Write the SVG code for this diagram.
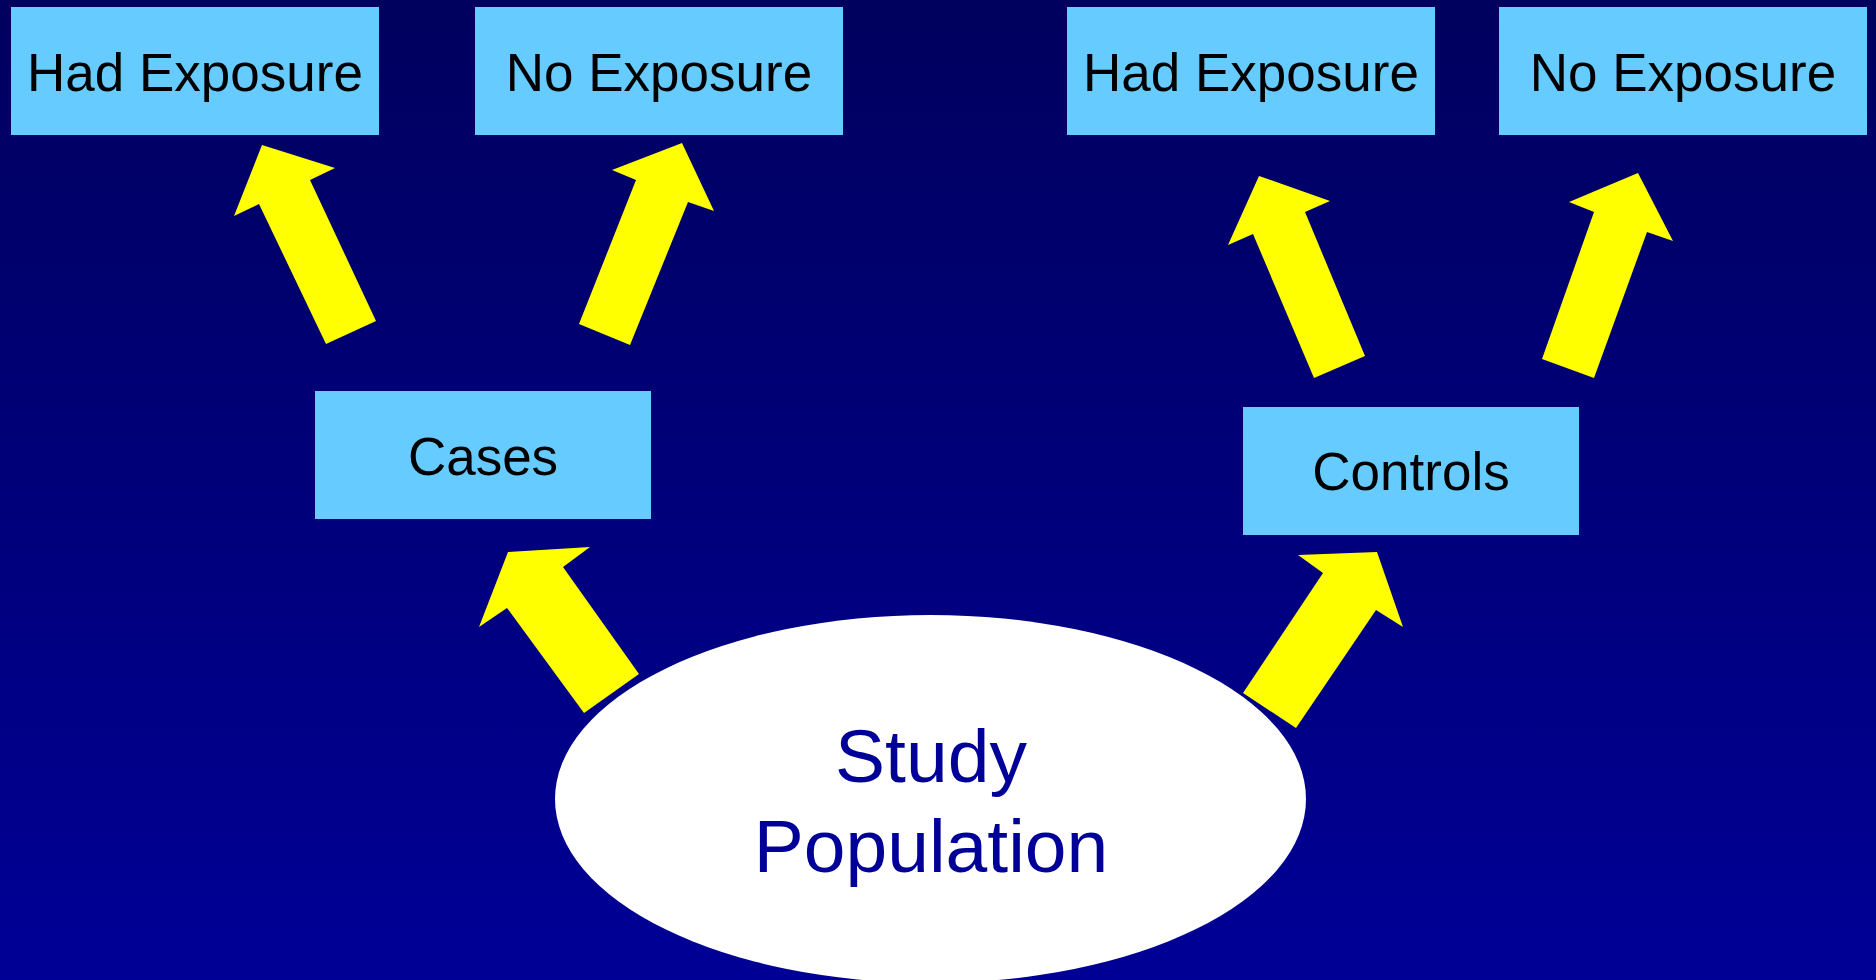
<svg xmlns="http://www.w3.org/2000/svg" width="1876" height="980" viewBox="0 0 1876 980">
<defs>
<linearGradient id="bg" x1="0" y1="0" x2="0" y2="1">
<stop offset="0" stop-color="#00005E"/>
<stop offset="1" stop-color="#000096"/>
</linearGradient>
<style>
.box{fill:#66CCFF}
.lbl{font-family:"Liberation Sans",Arial,sans-serif;font-size:53px;fill:#000000;text-anchor:middle}
.arrow{fill:#FFFF00}
.pop{font-family:"Liberation Sans",Arial,sans-serif;font-size:75px;fill:#000099;text-anchor:middle}
</style>
</defs>
<rect x="0" y="0" width="1876" height="980" fill="url(#bg)"/>
<g id="connectors">
<polygon class="arrow" points="262,145 335,168 310,180 376,321 326,344 259,204 234,216"/>
<polygon class="arrow" points="682,143 714,211 688,202 630,345 579,324 636,180 612,170"/>
<polygon class="arrow" points="1259,176 1330,201 1305,212 1365,356 1314,378 1253,234 1228,245"/>
<polygon class="arrow" points="1638,173 1673,241 1647,232 1594,378 1542,359 1594,212 1569,202"/>
<polygon class="arrow" points="508,552 590,547 563,567 639,674 584,713 507,608 479,627"/>
<polygon class="arrow" points="1298,555 1377,552 1403,627 1376,610 1296,728 1243,693 1323,573"/>
</g>
<g id="had-exposure-cases">
<rect class="box" x="11" y="7" width="368" height="128"/>
<text class="lbl" x="195" y="91">Had Exposure</text>
</g>
<g id="no-exposure-cases">
<rect class="box" x="475" y="7" width="368" height="128"/>
<text class="lbl" x="659" y="91">No Exposure</text>
</g>
<g id="had-exposure-controls">
<rect class="box" x="1067" y="7" width="368" height="128"/>
<text class="lbl" x="1251" y="91">Had Exposure</text>
</g>
<g id="no-exposure-controls">
<rect class="box" x="1499" y="7" width="368" height="128"/>
<text class="lbl" x="1683" y="91">No Exposure</text>
</g>
<g id="cases">
<rect class="box" x="315" y="391" width="336" height="128"/>
<text class="lbl" x="483" y="475">Cases</text>
</g>
<g id="controls">
<rect class="box" x="1243" y="407" width="336" height="128"/>
<text class="lbl" x="1411" y="490">Controls</text>
</g>
<g id="study-population">
<ellipse cx="930.5" cy="799" rx="375.5" ry="184" fill="#FFFFFF"/>
<text class="pop" x="931" y="782">Study</text>
<text class="pop" x="931" y="872">Population</text>
</g>
</svg>
